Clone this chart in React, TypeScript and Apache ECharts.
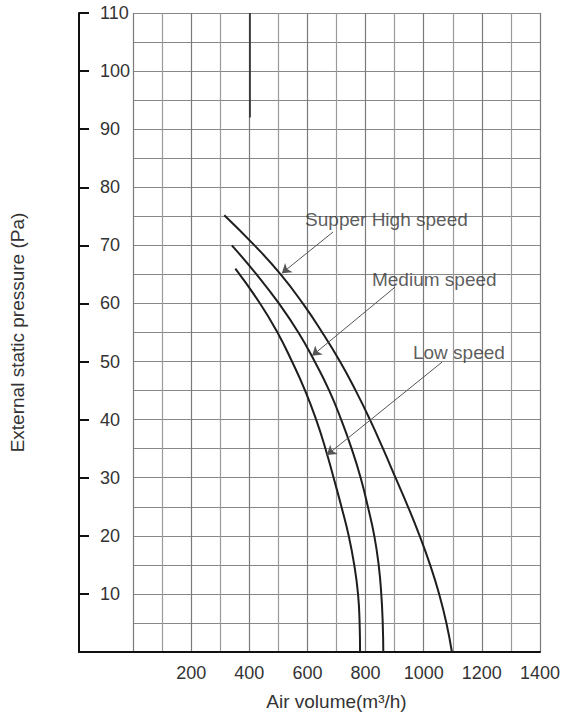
import React, { useEffect, useRef } from "react";
import * as echarts from "echarts";

// Curves: [air volume (m3/h), external static pressure (Pa)]
const superHighSpeed: number[][] = [
  [314, 75.2], [418, 70], [508, 65], [584, 60], [651, 55], [712, 50],
  [766, 45], [815, 40], [860, 35], [903, 30], [946, 25], [986, 20],
  [1022, 15], [1053, 10], [1078, 5], [1097, 0],
];
const mediumSpeed: number[][] = [
  [340, 70], [425, 65], [502, 60], [569, 55], [625, 50], [675, 45],
  [716, 40], [752, 35], [783, 30], [808, 25], [830, 20], [845, 15],
  [854, 10], [859, 5], [861, 0],
];
const lowSpeed: number[][] = [
  [352, 66], [437, 60], [497, 55], [547, 50], [592, 45], [630, 40],
  [662, 35], [690, 30], [717, 25], [742, 20], [761, 15], [774, 10],
  [779.5, 5], [781, 0],
];

const seriesNames = ["Supper High speed", "Medium speed", "Low speed"];

// Tick labels
const xTickLabels = [200, 400, 600, 800, 1000, 1200, 1400];
const yTickLabels = [10, 20, 30, 40, 50, 60, 70, 80, 90, 100, 110];

// Annotation anchors (data coordinates)
const labelAnchors: number[][] = [[592, 74.4], [822, 64.2], [963, 51.6]];
const arrowStarts: number[][] = [[688, 72.3], [901, 62.8], [1063, 49.9]];
const arrowEnds: number[][] = [[512, 65.2], [616, 51], [667, 33.9]];

const FONT = "'Liberation Sans', Arial, sans-serif";

export default function App() {
  const ref = useRef<HTMLDivElement>(null);

  useEffect(() => {
    if (!ref.current) return;
    const chart = echarts.init(ref.current, undefined, { renderer: "svg" });
    const curves = [superHighSpeed, mediumSpeed, lowSpeed];

    const option: any = {
      animation: false,
      backgroundColor: "#ffffff",
      textStyle: { fontFamily: FONT },
      grid: [
        { left: 72, top: 13, width: 468, height: 639 },
        { left: 133, top: 13, width: 407, height: 639 },
      ],
      xAxis: [
        {
          gridIndex: 0,
          type: "value",
          min: 0,
          max: 1,
          axisLine: { show: true, lineStyle: { color: "#111", width: 2 } },
          axisTick: { show: false },
          axisLabel: { show: false },
          splitLine: { show: false },
        },
        {
          gridIndex: 1,
          type: "value",
          min: 0,
          max: 1400,
          interval: 200,
          axisLine: { show: false },
          axisTick: { show: false },
          axisLabel: {
            formatter: (v: number) => (xTickLabels.includes(v) ? String(v) : ""),
            fontSize: 18,
            color: "#333",
            margin: 12,
            fontFamily: FONT,
          },
          splitLine: { show: true, lineStyle: { color: "#7a7a7a", width: 1.2 } },
          minorTick: { show: false, splitNumber: 2 },
          minorSplitLine: { show: true, lineStyle: { color: "#9a9a9a", width: 1.2 } },
          name: "Air volume(m³/h)",
          nameLocation: "middle",
          nameGap: 40,
          nameTextStyle: { fontSize: 19, color: "#333", fontFamily: FONT },
        },
      ],
      yAxis: [
        {
          gridIndex: 0,
          type: "value",
          min: 0,
          max: 110,
          interval: 10,
          axisLine: { show: true, lineStyle: { color: "#111", width: 2 } },
          axisTick: { show: true, inside: true, length: 10, lineStyle: { color: "#111", width: 2 } },
          axisLabel: {
            inside: true,
            margin: 21,
            formatter: (v: number) => (yTickLabels.includes(v) ? String(v) : ""),
            fontSize: 18,
            color: "#333",
            fontFamily: FONT,
          },
          splitLine: { show: false },
          name: "External static pressure (Pa)",
          nameLocation: "middle",
          nameGap: 52,
          nameRotate: 90,
          nameTextStyle: { fontSize: 19, color: "#333", fontFamily: FONT },
        },
        {
          gridIndex: 1,
          type: "value",
          min: 0,
          max: 110,
          interval: 5,
          axisLine: { show: false },
          axisTick: { show: false },
          axisLabel: { show: false },
          splitLine: { show: true, lineStyle: { color: "#888", width: 1.2 } },
        },
      ],
      series: [
        ...curves.map((d, i) => ({
          type: "line",
          name: seriesNames[i],
          xAxisIndex: 1,
          yAxisIndex: 1,
          data: d,
          smooth: true,
          showSymbol: false,
          silent: true,
          lineStyle: { color: "#1e1e1e", width: 2 },
          ...(i === 0
            ? {
                markLine: {
                  silent: true,
                  symbol: ["none", "none"],
                  label: { show: false },
                  lineStyle: { color: "#222", width: 1.5, type: "solid" },
                  data: [[{ coord: [400, 92] }, { coord: [400, 110] }]],
                },
              }
            : {}),
        })),
        {
          type: "scatter",
          xAxisIndex: 1,
          yAxisIndex: 1,
          silent: true,
          symbolSize: 0,
          data: labelAnchors.map((a, i) => [a[0], a[1], seriesNames[i]]),
          label: {
            show: true,
            position: "right",
            distance: 0,
            formatter: (p: any) => p.data[2],
            fontSize: 19,
            color: "#333",
            fontFamily: FONT,
          },
          markLine: {
            silent: true,
            symbol: ["none", "arrow"],
            symbolSize: 9,
            label: { show: false },
            lineStyle: { color: "#555", width: 1, type: "solid" },
            itemStyle: { color: "#222" },
            data: arrowStarts.map((s, i) => [{ coord: s }, { coord: arrowEnds[i] }]),
          },
        },
      ],
    };

    chart.setOption(option);
    return () => chart.dispose();
  }, []);

  return (
    <div
      ref={ref}
      style={{ position: "fixed", left: 0, top: 0, width: 570, height: 720, background: "#fff" }}
    />
  );
}
